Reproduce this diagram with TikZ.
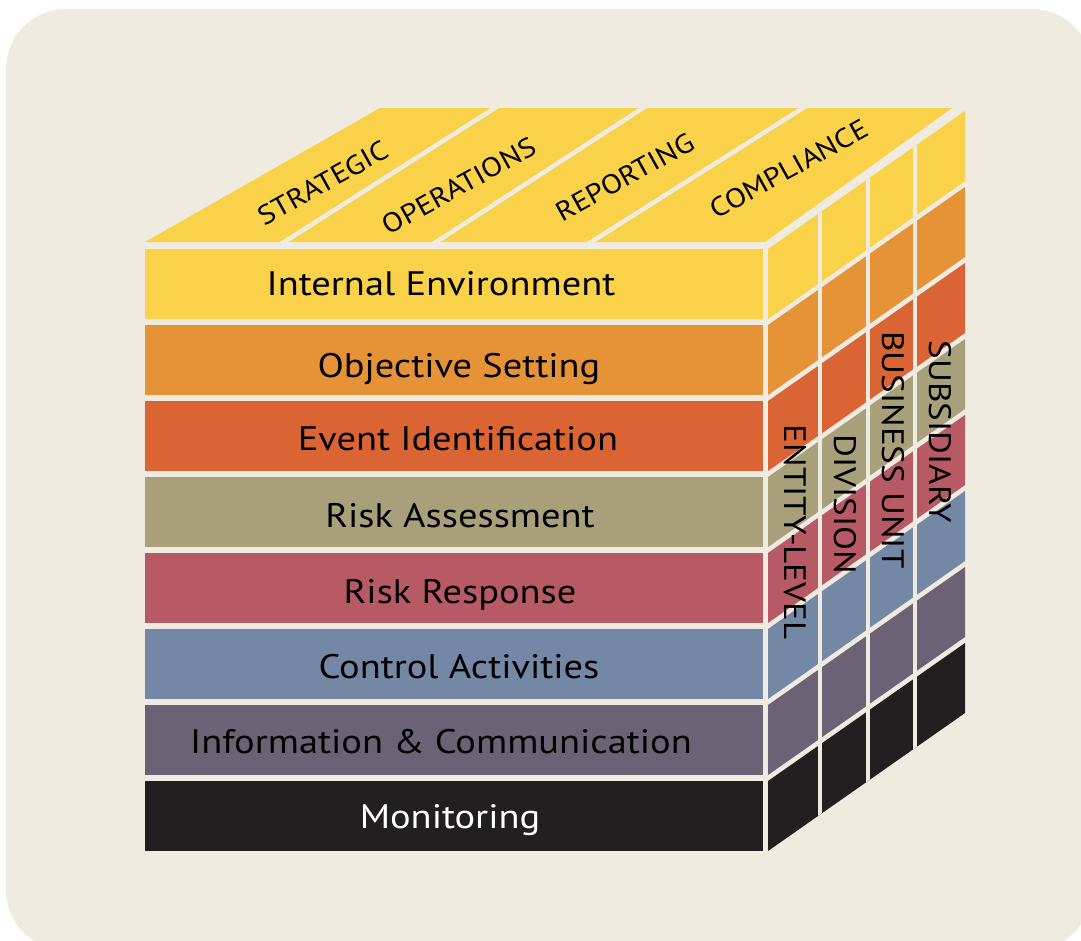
\documentclass[tikz,border=0pt]{standalone}
\usepackage{fontspec}
\setmainfont{PT Sans}
\newfontfamily\labfont{PT Sans}[FakeStretch=1.13]
\definecolor{bgc}{HTML}{EFEBE1}
\definecolor{cA}{HTML}{F9D24A}
\definecolor{cB}{HTML}{E69338}
\definecolor{cC}{HTML}{DB6434}
\definecolor{cD}{HTML}{A89F7B}
\definecolor{cE}{HTML}{B75A65}
\definecolor{cF}{HTML}{7488A6}
\definecolor{cG}{HTML}{6C6275}
\definecolor{cH}{HTML}{231F20}
\tikzset{
  rowlabel/.style={font=\labfont\fontsize{34}{40}\selectfont, anchor=base, inner sep=0pt},
  toplabel/.style={font=\labfont\fontsize{27}{30}\selectfont, rotate=29, inner sep=0pt},
  sidelabel/.style={font=\labfont\fontsize{31}{36}\selectfont, rotate=-90, inner sep=0pt},
  gapline/.style={draw=bgc, line width=4.5pt}
}
\begin{document}
\begin{tikzpicture}[x=1pt,y=-1pt]
\useasboundingbox (0,0) rectangle (1081,940);
\clip (0,0) rectangle (1081,940);
\fill[white] (0,0) rectangle (1081,940);
\fill[bgc, rounded corners=60pt] (6,9) rectangle (1092,950);

% top face
\fill[cA] (145,242) -- (380,108) -- (952,108) -- (765,242) -- cycle;
\draw[gapline] (281,244) -- (498,106);
\draw[gapline] (433,244) -- (646,106);
\draw[gapline] (588,244) -- (806,106);

% front rows and right face bands
\foreach \i/\c in {0/cA,1/cB,2/cC,3/cD,4/cE,5/cF,6/cG,7/cH}{
  \pgfmathsetmacro{\yt}{249+76*\i}
  \pgfmathsetmacro{\yb}{\yt+70}
  \fill[\c] (145,\yt) rectangle (763,\yb);
  \fill[\c] (768,\yt) -- (965,\yt-138) -- (965,\yb-138) -- (768,\yb) -- cycle;
}
\begin{scope}
\clip (768,249) -- (965,111) -- (965,713) -- (768,851) -- cycle;
\draw[gapline] (820,100) -- (820,900);
\draw[gapline] (868,100) -- (868,900);
\draw[gapline] (915,100) -- (915,900);
\end{scope}

% front labels
\node[rowlabel] (ie) at (441,295) {Internal Environment};
\node[rowlabel] (os) at (459,377) {Objective Setting};
\node[rowlabel] (ei) at (458,450) {Event Identification};
\node[rowlabel] (ra) at (460,527) {Risk Assessment};
\node[rowlabel] (rr) at (460,603) {Risk Response};
\node[rowlabel] (ca) at (459,678) {Control Activities};
\node[rowlabel] (ic) at (441,753) {Information \& Communication};
\node[rowlabel, text=white] (mo) at (450,828) {Monitoring};

% top labels
\node[toplabel] (st) at (323,183) {STRATEGIC};
\node[toplabel] (op) at (459,186) {OPERATIONS};
\node[toplabel] (rp) at (625,177) {REPORTING};
\node[toplabel] (cp) at (789,169) {COMPLIANCE};

% side labels
\node[sidelabel] (el) at (795,532) {ENTITY-LEVEL};
\node[sidelabel] (dv) at (845,504) {DIVISION};
\node[sidelabel] (bu) at (893,450) {BUSINESS UNIT};
\node[sidelabel] (sb) at (940,432) {SUBSIDIARY};
\end{tikzpicture}
\end{document}
